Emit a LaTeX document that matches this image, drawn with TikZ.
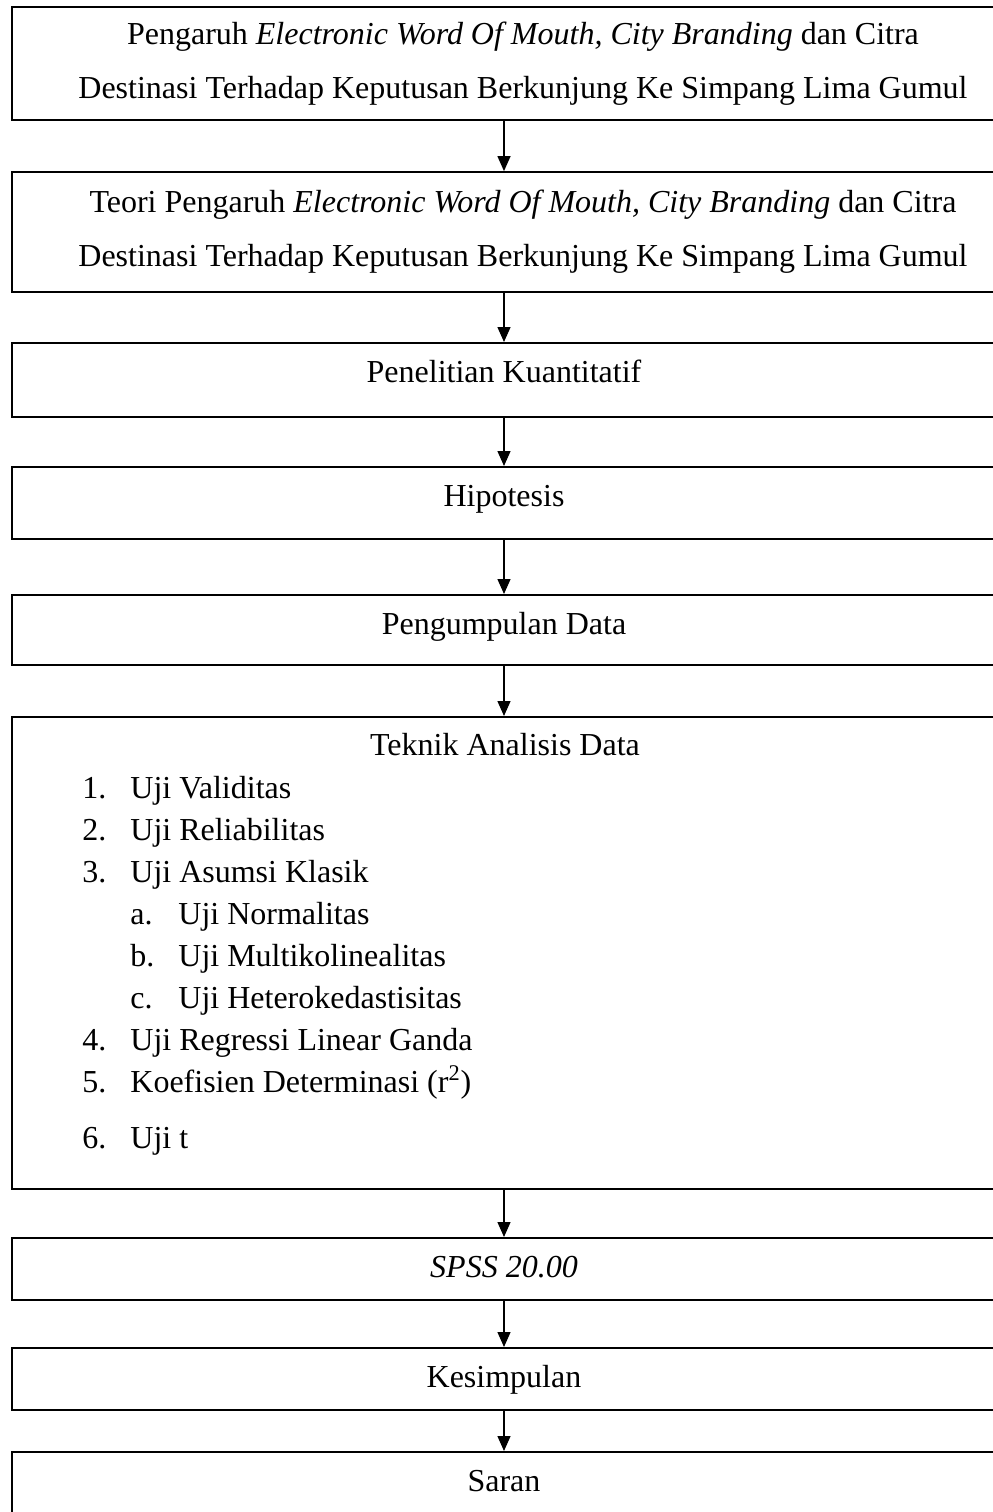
\documentclass[tikz,border=0pt]{standalone}
\usepackage{fontspec}
\setmainfont{Liberation Serif}
\usetikzlibrary{arrows.meta,positioning}
\newcommand{\butir}[1]{\makebox[24pt][l]{#1}}
\tikzset{
  stage/.style={draw, line width=0.9pt, minimum width=492pt, anchor=north, inner ysep=8.6pt, text height=11pt, font=\fontsize{16}{27}\selectfont},
  stagetwo/.style={draw, line width=0.9pt, minimum width=492pt, align=center, font=\fontsize{16}{27}\selectfont},
  stagebig/.style={draw, line width=0.9pt, minimum width=492pt, anchor=north},
  heading/.style={anchor=base, inner sep=0pt, font=\fontsize{16}{27}\selectfont},
  steplist/.style={anchor=north west, inner sep=0pt, align=left, font=\fontsize{16}{21}\selectfont},
  flow/.style={-{Triangle[length=7.5pt, width=6.5pt]}, line width=0.65pt}
}
\begin{document}
\begin{tikzpicture}[x=0.5pt,y=-0.5pt]
  \useasboundingbox (0,0) rectangle (992,1512);

  \node[stagetwo, minimum height=56.5pt] (pengaruh) at (504,63.5)
    {\hspace*{19pt}Pengaruh \textit{Electronic Word Of Mouth, City Branding} dan Citra\\\hspace*{19pt}Destinasi Terhadap Keputusan Berkunjung Ke Simpang Lima Gumul};
  \node[stagetwo, minimum height=60pt] (teori) at (504,232)
    {\hspace*{19pt}Teori Pengaruh \textit{Electronic Word Of Mouth, City Branding} dan Citra\\\hspace*{19pt}Destinasi Terhadap Keputusan Berkunjung Ke Simpang Lima Gumul};
  \node[stage, text depth=8.8pt] (kuantitatif) at (504,342) {Penelitian Kuantitatif};
  \node[stage, text depth=7.8pt] (hipotesis) at (504,466) {Hipotesis};
  \node[stage, text depth=6.8pt] (pengumpulan) at (504,594) {Pengumpulan Data};

  \node[stagebig, minimum height=236pt] (analisis) at (504,716) {};
  \node[heading] (judul) at (505,755) {Teknik Analisis Data};
  \node[steplist] (daftar) at (82,776)
    {\butir{1.}Uji Validitas\\
     \butir{2.}Uji Reliabilitas\\
     \butir{3.}Uji Asumsi Klasik\\
     \hspace*{24pt}\butir{a.}Uji Normalitas\\
     \hspace*{24pt}\butir{b.}Uji Multikolinealitas\\
     \hspace*{24pt}\butir{c.}Uji Heterokedastisitas\\
     \butir{4.}Uji Regressi Linear Ganda\\
     \butir{5.}Koefisien Determinasi (r\textsuperscript{2})\\[7pt]
     \butir{6.}Uji t};

  \node[stage, text depth=2.8pt] (spss) at (504,1237) {\textit{SPSS 20.00}};
  \node[stage, text depth=2.8pt] (kesimpulan) at (504,1347) {Kesimpulan};
  \node[stage, text depth=2.8pt] (saran) at (504,1451) {Saran};

  \draw[flow] (pengaruh.south) -- (teori.north);
  \draw[flow] (teori.south) -- (kuantitatif.north);
  \draw[flow] (kuantitatif.south) -- (hipotesis.north);
  \draw[flow] (hipotesis.south) -- (pengumpulan.north);
  \draw[flow] (pengumpulan.south) -- (analisis.north);
  \draw[flow] (analisis.south) -- (spss.north);
  \draw[flow] (spss.south) -- (kesimpulan.north);
  \draw[flow] (kesimpulan.south) -- (saran.north);
\end{tikzpicture}
\end{document}
